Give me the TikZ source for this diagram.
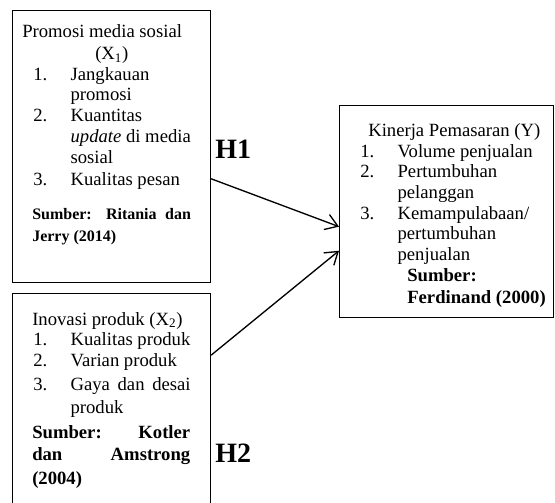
\documentclass[tikz,border=0pt]{standalone}
\usepackage{fontspec}
\setmainfont{Liberation Serif}
\usetikzlibrary{arrows.meta,positioning,calc}
\tikzstyle{box} = [draw, rectangle, line width=0.8pt, inner sep=0pt]
\tikzstyle{txt} = [anchor=base west, align=left, inner sep=0pt, font=\fontsize{14pt}{15.5pt}\selectfont]
\tikzstyle{hyp} = [anchor=base west, inner sep=0pt, font=\fontsize{21pt}{24pt}\selectfont\bfseries]
\newcommand{\numlbl}[1]{\makebox[28pt][l]{#1}}
\newcommand{\smallsrc}{\fontsize{12pt}{15.5pt}\selectfont\bfseries}

\begin{document}
\begin{tikzpicture}[x=0.75pt, y=-0.75pt, >={Straight Barb[length=9pt,width=12pt]}]
    \useasboundingbox (0,0) rectangle (555,502);
    % Boxes
    \node [box, anchor=north west, minimum width=148.5pt, minimum height=204pt] (promosi) at (12,10) {};
    \node [box, anchor=north west, minimum width=148.5pt, minimum height=159pt] (inovasi) at (12,293) {};
    \node [box, anchor=north west, minimum width=160.5pt, minimum height=159pt] (kinerja) at (339,105) {};

    % Texts (anchored at the last baseline)
    \node [txt] (promosi-txt) at (22,241) {Promosi media sosial\\[1pt]
        \hspace*{54.75pt}(X\textsubscript{1})\\
        \hspace*{8.25pt}\numlbl{1.}Jangkauan\\
        \hspace*{36.25pt}promosi\\
        \hspace*{8.25pt}\numlbl{2.}Kuantitas\\
        \hspace*{36.25pt}\textit{update} di media\\
        \hspace*{36.25pt}sosial\\[1pt]
        \hspace*{8.25pt}\numlbl{3.}Kualitas pesan\\[10pt]
        \hspace*{7.5pt}\makebox[119pt][s]{\smallsrc Sumber: Ritania dan}\\[1pt]
        \hspace*{7.5pt}{\smallsrc Jerry (2014)}};
    \node [txt] (inovasi-txt) at (32,484) {Inovasi produk (X\textsubscript{2})\\
        \hspace*{0.75pt}\numlbl{1.}Kualitas produk\\
        \hspace*{0.75pt}\numlbl{2.}Varian produk\\[2.5pt]
        \hspace*{0.75pt}\numlbl{3.}\makebox[90pt][s]{Gaya dan desai}\\[2pt]
        \hspace*{28.75pt}produk\\[3.2pt]
        \makebox[118.5pt][s]{\textbf{Sumber: Kotler}}\\[1pt]
        \makebox[118.5pt][s]{\textbf{dan Amstrong}}\\[2pt]
        \textbf{(2004)}};
    \node [txt] (kinerja-txt) at (360,303.7) {\hspace*{6pt}Kinerja Pemasaran (Y)\\
        \numlbl{1.}Volume penjualan\\
        \numlbl{2.}Pertumbuhan\\
        \hspace*{28pt}pelanggan\\
        \numlbl{3.}Kemampulabaan/\\
        \hspace*{28pt}pertumbuhan\\
        \hspace*{28pt}penjualan\\
        \hspace*{35.25pt}\textbf{Sumber:}\\[1.3pt]
        \hspace*{35.25pt}\textbf{Ferdinand (2000)}};

    % Hypotheses
    \node [hyp] (h1) at (215,158) {H1};
    \node [hyp] (h2) at (215,462) {H2};

    % Connections
    \draw [->, line width=1pt] ($(promosi.north east)!0.618!(promosi.south east)$) -- ($(kinerja.north west)!0.571!(kinerja.south west)$);
    \draw [->, line width=1pt] ($(inovasi.north east)!0.292!(inovasi.south east)$) -- ($(kinerja.north west)!0.684!(kinerja.south west)$);
\end{tikzpicture}
\end{document}
